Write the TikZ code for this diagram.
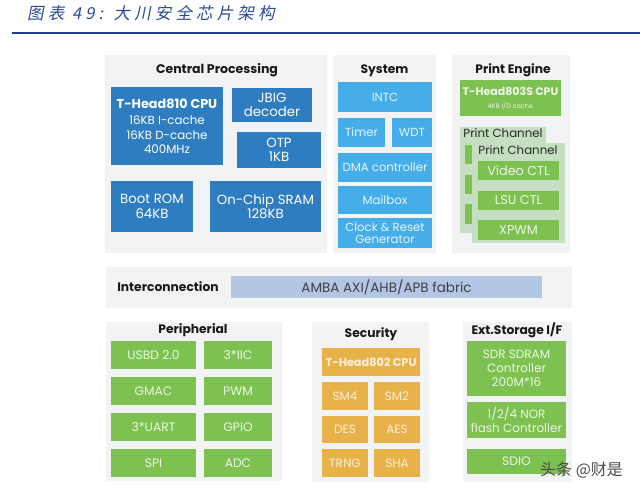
\documentclass[tikz,border=0pt]{standalone}
\usepackage{fontspec}
\setmainfont{Poppins}
\newfontfamily\cjktitle[FakeSlant=0.2,LetterSpace=25]{Noto Sans CJK SC}
\newfontfamily\cjkmark{Noto Sans CJK SC}
\definecolor{panelbg}{HTML}{F2F3F4}
\definecolor{cpblue}{HTML}{2E7DC1}
\definecolor{sysblue}{HTML}{45ADEA}
\definecolor{pgreen}{HTML}{7DC151}
\definecolor{pgold}{HTML}{E8B24B}
\definecolor{ambabar}{HTML}{B3C6E6}
\definecolor{chanbg}{HTML}{C6DFC2}
\definecolor{titleblue}{HTML}{2B4A9A}
\definecolor{rulebl}{HTML}{1F3C8C}
\definecolor{greentext}{HTML}{EDF7E6}
\definecolor{goldtext}{HTML}{FCF0D8}
\definecolor{systext}{HTML}{E8F5FC}
\begin{document}
\begin{tikzpicture}[x=1pt,y=-1pt,
  panel/.style={fill=panelbg,draw=none,inner sep=0pt},
  ptitle/.style={font=\fontsize{12.3}{14}\selectfont\bfseries,text=black!90,inner sep=0pt},
  bluebox/.style={fill=cpblue,draw=none,text=white,align=center,inner sep=0pt,font=\fontsize{13.3}{14.5}\selectfont},
  sysbox/.style={fill=sysblue,draw=none,text=systext,align=center,inner sep=0pt,font=\fontsize{11.7}{12.5}\selectfont},
  greenbox/.style={fill=pgreen,draw=none,text=greentext,align=center,inner sep=0pt,font=\fontsize{12.3}{14}\selectfont},
  goldbox/.style={fill=pgold,draw=none,text=goldtext,align=center,inner sep=0pt,font=\fontsize{12}{13}\selectfont},
  chanpanel/.style={fill=chanbg,draw=none,inner sep=0pt},
  chanlabel/.style={font=\fontsize{11.8}{13}\selectfont,text=black!85,inner sep=0pt}
]
\useasboundingbox (0,0) rectangle (640,494);
\fill[white] (0,0) rectangle (640,494);
% header
\node[anchor=west,inner sep=0pt,text=titleblue,font=\cjktitle\fontsize{16.5}{18}\selectfont] (title) at (27,13) {图表 49: 大川安全芯片架构};
\coordinate (ruleL) at (12,33);
\coordinate (ruleR) at (640,33);
\draw[rulebl,line width=2.4pt] (ruleL) -- (ruleR);

% Central Processing
\node[panel,minimum width=222pt,minimum height=198pt] (cppanel) at (216,154) {};
\node[ptitle,font=\fontsize{12.5}{14}\selectfont\bfseries] (cptitle) at (217,70) {Central Processing};
\node[bluebox,minimum width=112pt,minimum height=78pt] (cpu810) at (167,126.5)
  {{\fontsize{12.8}{14}\selectfont\bfseries T-Head810 CPU}\\[1.5pt]{\fontsize{11.8}{14}\selectfont 16KB I-cache}\\{\fontsize{11.8}{14}\selectfont 16KB D-cache}\\{\fontsize{11.8}{14}\selectfont 400MHz}};
\node[bluebox,minimum width=80pt,minimum height=34pt] (jbig) at (272,105) {JBIG\\decoder};
\node[bluebox,minimum width=84pt,minimum height=36pt] (otp) at (279,150) {OTP\\1KB};
\node[bluebox,minimum width=82pt,minimum height=51pt] (boot) at (152,206.5) {Boot ROM\\64KB};
\node[bluebox,minimum width=111pt,minimum height=51pt] (sram) at (265.5,206.5) {On-Chip SRAM\\128KB};

% System
\node[panel,minimum width=103pt,minimum height=198pt] (syspanel) at (384.5,154) {};
\node[ptitle] (systitle) at (384.5,71) {System};
\node[sysbox,minimum width=94pt,minimum height=30pt] (intc) at (385,97) {INTC};
\node[sysbox,minimum width=47pt,minimum height=29pt] (timer) at (361.5,132.5) {Timer};
\node[sysbox,minimum width=40pt,minimum height=29pt] (wdt) at (412,132.5) {WDT};
\node[sysbox,minimum width=94pt,minimum height=29pt] (dma) at (385,167.5) {DMA controller};
\node[sysbox,minimum width=94pt,minimum height=28pt] (mailbox) at (385,200) {Mailbox};
\node[sysbox,minimum width=94pt,minimum height=30pt] (clk) at (385,233) {Clock \& Reset\\Generator};

% Print Engine
\node[panel,minimum width=118pt,minimum height=198pt] (pepanel) at (511,154) {};
\node[ptitle] (petitle) at (513,70) {Print Engine};
\node[greenbox,minimum width=101pt,minimum height=36pt] (cpu803) at (510.5,98)
  {{\fontsize{11}{12}\selectfont\bfseries T-Head803S CPU}\\[-1pt]{\fontsize{6.5}{8}\selectfont 4KB I/D cache}};
\node[chanpanel,minimum width=86pt,minimum height=106pt] (backchan) at (503,180) {};
\node[chanlabel] (backlabel) at (503,133) {Print Channel};
\node[fill=pgreen,inner sep=0pt,minimum width=14pt,minimum height=19pt] (bstripA) at (472,154.5) {};
\node[fill=pgreen,inner sep=0pt,minimum width=14pt,minimum height=19pt] (bstripB) at (472,184.5) {};
\node[fill=pgreen,inner sep=0pt,minimum width=14pt,minimum height=20pt] (bstripC) at (472,214) {};
\node[chanpanel,minimum width=93pt,minimum height=100pt] (frontchan) at (518.5,193) {};
\node[chanlabel] (frontlabel) at (518,150) {Print Channel};
\node[greenbox,minimum width=81pt,minimum height=19pt,font=\fontsize{12.8}{13}\selectfont] (video) at (518.5,170.5) {Video CTL};
\node[greenbox,minimum width=81pt,minimum height=19pt,font=\fontsize{12.8}{13}\selectfont] (lsu) at (518.5,200.5) {LSU CTL};
\node[greenbox,minimum width=81pt,minimum height=20pt,font=\fontsize{12.8}{13}\selectfont] (xpwm) at (518.5,230) {XPWM};

% Interconnection
\node[panel,minimum width=466pt,minimum height=41pt] (icpanel) at (339,287.5) {};
\node[ptitle] (ictitle) at (168,287) {Interconnection};
\node[fill=ambabar,inner sep=0pt,minimum width=311pt,minimum height=22pt,text=black!75,font=\fontsize{13.5}{15}\selectfont] (amba) at (386.5,287) {AMBA AXI/AHB/APB fabric};

% Peripherial
\node[panel,minimum width=176pt,minimum height=159pt] (perpanel) at (194,401.5) {};
\node[ptitle] (pertitle) at (193,330) {Peripherial};
\node[greenbox,minimum width=85pt,minimum height=28pt] (usbd) at (153.5,355) {USBD 2.0};
\node[greenbox,minimum width=68pt,minimum height=28pt] (iic) at (238,355) {3*IIC};
\node[greenbox,minimum width=85pt,minimum height=28pt] (gmac) at (153.5,391) {GMAC};
\node[greenbox,minimum width=68pt,minimum height=28pt] (pwm) at (238,391) {PWM};
\node[greenbox,minimum width=85pt,minimum height=28pt] (uart) at (153.5,427) {3*UART};
\node[greenbox,minimum width=68pt,minimum height=28pt] (gpio) at (238,427) {GPIO};
\node[greenbox,minimum width=85pt,minimum height=28pt] (spi) at (153.5,463) {SPI};
\node[greenbox,minimum width=68pt,minimum height=28pt] (adc) at (238,463) {ADC};

% Security
\node[panel,minimum width=117pt,minimum height=160pt] (secpanel) at (370.5,402) {};
\node[ptitle] (sectitle) at (371,334) {Security};
\node[goldbox,minimum width=98pt,minimum height=28pt,font=\fontsize{11.3}{13}\selectfont\bfseries] (cpu802) at (371,362) {T-Head802 CPU};
\node[goldbox,minimum width=46pt,minimum height=28pt] (sm4) at (345,396) {SM4};
\node[goldbox,minimum width=46pt,minimum height=28pt] (sm2) at (397,396) {SM2};
\node[goldbox,minimum width=46pt,minimum height=27pt] (des) at (345,429.5) {DES};
\node[goldbox,minimum width=46pt,minimum height=27pt] (aes) at (397,429.5) {AES};
\node[goldbox,minimum width=46pt,minimum height=28pt] (trng) at (345,463) {TRNG};
\node[goldbox,minimum width=46pt,minimum height=28pt] (sha) at (397,463) {SHA};

% Ext.Storage
\node[panel,minimum width=109pt,minimum height=160pt] (extpanel) at (517.5,402) {};
\node[ptitle] (exttitle) at (517,330) {Ext.Storage I/F};
\node[greenbox,minimum width=99pt,minimum height=55pt,font=\fontsize{12}{14}\selectfont] (sdram) at (516.5,368.5) {SDR SDRAM\\Controller\\200M*16};
\node[greenbox,minimum width=99pt,minimum height=36pt,font=\fontsize{12}{14}\selectfont] (nor) at (516.5,420) {1/2/4 NOR\\flash Controller};
\node[greenbox,minimum width=99pt,minimum height=25pt] (sdio) at (516.5,461.5) {SDIO};

% watermark
\node[anchor=west,inner sep=0pt,text=black!70,font=\cjkmark\fontsize{16}{18}\selectfont] (mark) at (540,470) {头条 @财是};
\end{tikzpicture}
\end{document}
